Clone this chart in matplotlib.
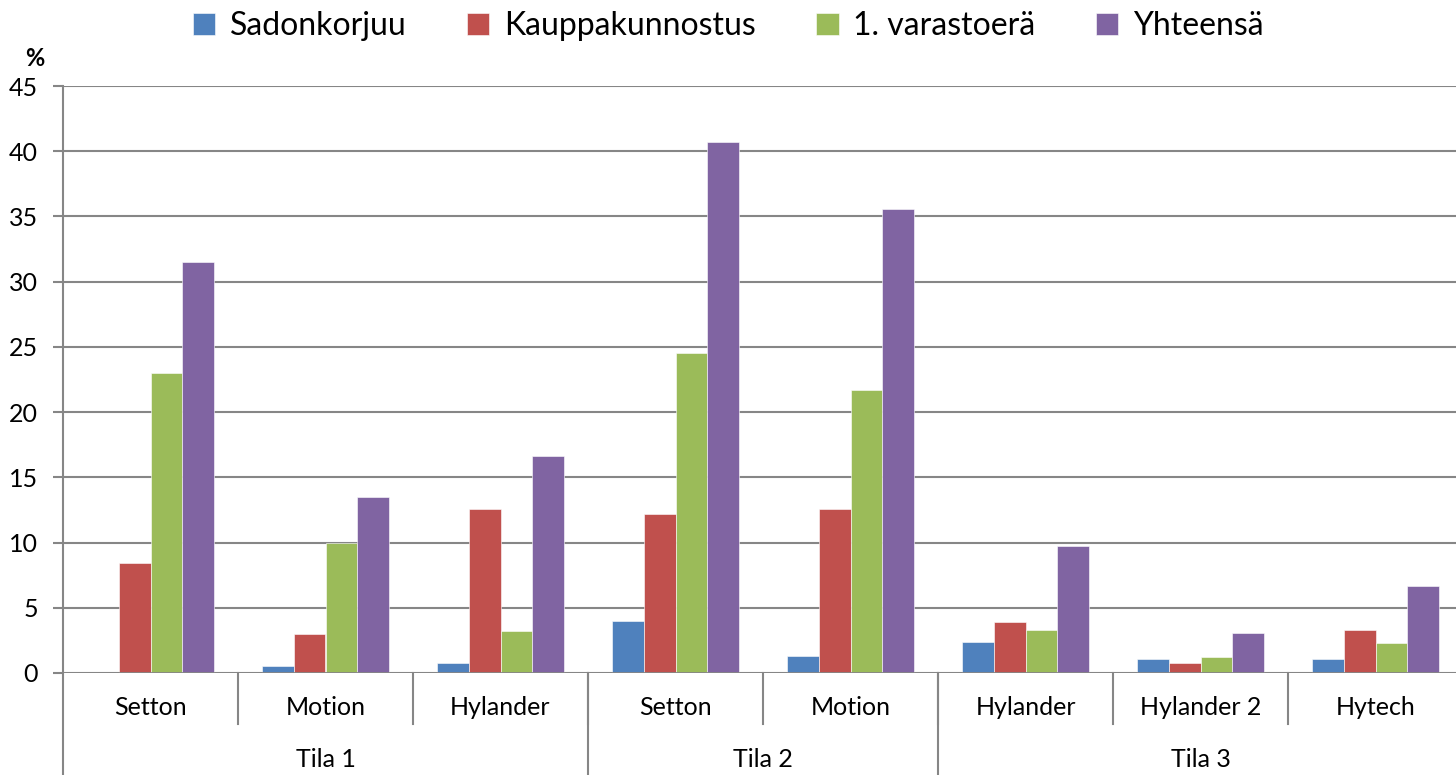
import matplotlib

matplotlib.use("Agg")
import matplotlib.pyplot as plt
import numpy as np
from matplotlib.transforms import blended_transform_factory

plt.rcParams["font.family"] = ["Lato", "DejaVu Sans"]

# data
varieties = ["Setton", "Motion", "Hylander", "Setton", "Motion", "Hylander", "Hylander 2", "Hytech"]
farms = ["Tila 1", "Tila 2", "Tila 3"]
farm_sizes = [3, 2, 3]
series_names = ["Sadonkorjuu", "Kauppakunnostus", "1. varastoerä", "Yhteensä"]
sadonkorjuu = [0.0, 0.5, 0.75, 4.0, 1.3, 2.4, 1.1, 1.1]
kauppakunnostus = [8.4, 3.0, 12.6, 12.2, 12.6, 3.9, 0.8, 3.3]
varastoera = [23.0, 10.0, 3.2, 24.5, 21.7, 3.3, 1.2, 2.3]
yhteensa = [31.5, 13.5, 16.6, 40.7, 35.6, 9.7, 3.1, 6.7]
colors = ["#4F81BD", "#C0504D", "#9BBB59", "#8064A2"]

GRAY = "#868686"


def main() -> None:
    fig = plt.figure(figsize=(14.56, 7.75), dpi=100)
    ax = fig.add_axes([63 / 1456, 102 / 775, 1400 / 1456, 587 / 775])

    values = [sadonkorjuu, kauppakunnostus, varastoera, yhteensa]
    x = np.arange(len(varieties))
    width = 1 / 5.5
    for i, (name, vals, col) in enumerate(zip(series_names, values, colors)):
        ax.bar(x + (i - 1.5) * width, vals, width, color=col, label=name,
               edgecolor="white", linewidth=0.4, zorder=3)

    ax.set_xlim(-0.5, len(varieties) - 0.5)
    ax.set_ylim(0, 45)
    ax.set_yticks(range(0, 46, 5))
    ax.yaxis.grid(True, color=GRAY, linewidth=1.5, zorder=0)
    ax.set_axisbelow(True)
    for side in ["top", "right", "bottom"]:
        ax.spines[side].set_visible(False)
    ax.spines["left"].set_color(GRAY)
    ax.spines["left"].set_linewidth(1.5)
    ax.tick_params(axis="y", colors=GRAY, length=7, width=1.5, labelsize=18,
                   labelcolor="black", pad=11)
    ax.set_xticks([])
    ax.axhline(0, color=GRAY, linewidth=2, zorder=4)

    trans = blended_transform_factory(ax.transData, ax.transAxes)
    # category labels and separators
    for xi, name in zip(x, varieties):
        ax.text(xi, -0.058, name, transform=trans, ha="center", va="center", fontsize=18)
    for xi in x[1:]:
        ax.plot([xi - 0.5, xi - 0.5], [0, -0.087], transform=trans, color=GRAY,
                linewidth=1.5, clip_on=False)

    # farm group labels and separators
    start = 0
    bounds = [0]
    for farm, size in zip(farms, farm_sizes):
        center = start + (size - 1) / 2
        ax.text(center, -0.148, farm, transform=trans, ha="center", va="center", fontsize=18)
        start += size
        bounds.append(start)
    for b in bounds[:-1]:
        ax.plot([b - 0.5, b - 0.5], [0, -0.2], transform=trans, color=GRAY,
                linewidth=1.5, clip_on=False)

    fig.text(35 / 1456, 1 - 59 / 775, "%", ha="center", va="center",
             fontsize=17, fontweight="bold")

    fig.legend(loc="center", bbox_to_anchor=(0.5, 1 - 26 / 775), ncol=4, frameon=False,
               fontsize=23, handlelength=0.7, handleheight=0.7, handletextpad=0.45,
               columnspacing=1.9)

    fig.savefig("out.png", dpi=100)
    plt.close(fig)


if __name__ == "__main__":
    main()
